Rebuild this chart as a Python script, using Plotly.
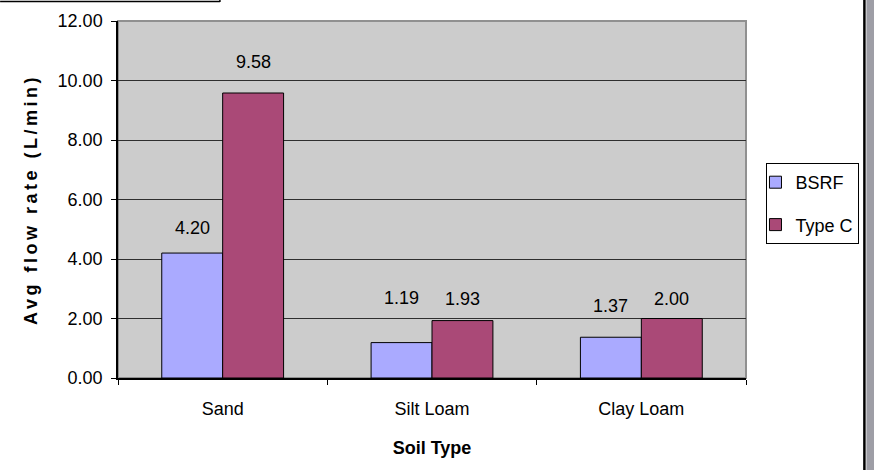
import plotly.graph_objects as go

# Average flow rate by soil type for two filter designs
soil_types = ["Sand", "Silt Loam", "Clay Loam"]
bsrf_flow = [4.20, 1.19, 1.37]
type_c_flow = [9.58, 1.93, 2.00]
y_ticks = [0, 2, 4, 6, 8, 10, 12]

FONT = "Arial, Liberation Sans, sans-serif"

# pixel lift of each value label above its bar
label_lift = {"BSRF": [25, 45, 31], "Type C": [31, 22, 20]}

fig = go.Figure()
fig.add_trace(go.Bar(
    name="BSRF", x=soil_types, y=bsrf_flow,
    marker=dict(color="#AAAAFF", line=dict(color="#000000", width=1)),
    legendgroup="a",
))
fig.add_trace(go.Bar(
    name="Type C", x=soil_types, y=type_c_flow,
    marker=dict(color="#AA4977", line=dict(color="#000000", width=1)),
    legendgroup="b",
))

# value labels above the bars
annotations = []
for series, vals, off in [("BSRF", bsrf_flow, -0.5), ("Type C", type_c_flow, 0.5)]:
    for i, v in enumerate(vals):
        annotations.append(dict(
            x=i + off * 0.29, y=v, xref="x", yref="y",
            text=f"{v:.2f}", showarrow=False,
            yshift=label_lift[series][i], yanchor="middle",
            font=dict(family=FONT, size=18, color="#000000"),
        ))

W, H = 874, 470
L, R, T, B = 118, 746.5, 21, 378
pw, ph = R - L, B - T


def px(x):
    return (x - L) / pw


def py(y):
    return (B - y) / ph


shapes = [
    # plot area frame (grey top and right edges)
    dict(type="rect", xref="paper", yref="paper", x0=0, x1=1, y0=0, y1=1,
         line=dict(color="#909090", width=2), layer="below"),
    # small frame at the top left
    dict(type="line", xref="paper", yref="paper", x0=px(0), x1=px(220), y0=py(1.5), y1=py(1.5),
         line=dict(color="#000000", width=1.5)),
    dict(type="line", xref="paper", yref="paper", x0=px(220), x1=px(220), y0=py(0), y1=py(2),
         line=dict(color="#000000", width=1.5)),
    # right-hand border and grey strip
    dict(type="line", xref="paper", yref="paper", x0=px(865), x1=px(865), y0=py(0), y1=py(470),
         line=dict(color="#000000", width=2.5)),
    dict(type="rect", xref="paper", yref="paper", x0=px(867), x1=px(875), y0=py(0), y1=py(471),
         line=dict(width=0), fillcolor="#9E9EA6"),
]

fig.update_layout(
    width=W, height=H,
    margin=dict(l=L, r=W - R, t=T, b=H - B, pad=0, autoexpand=False),
    paper_bgcolor="#FFFFFF",
    plot_bgcolor="#CCCCCC",
    barmode="group", bargap=0.418, bargroupgap=0,
    font=dict(family=FONT, size=18, color="#000000"),
    showlegend=True,
    legend=dict(
        x=px(767), y=py(163), xanchor="left", yanchor="top",
        bgcolor="#FFFFFF", bordercolor="#000000", borderwidth=1,
        font=dict(family=FONT, size=18, color="#000000"),
        tracegroupgap=16, itemwidth=30, indentation=-12,
    ),
    xaxis=dict(
        type="category",
        showline=True, linecolor="#000000", linewidth=1.5,
        ticks="outside", ticklen=5, tickcolor="#000000", tickson="boundaries",
        showgrid=False,
        tickfont=dict(family=FONT, size=18),
        ticklabelstandoff=14,
        title=dict(text="<b>Soil Type</b>", font=dict(family=FONT, size=18), standoff=23),
    ),
    yaxis=dict(
        range=[0, 12],
        tickvals=y_ticks, tickformat=".2f",
        showline=True, linecolor="#000000", linewidth=1.5,
        ticks="outside", ticklen=5, tickcolor="#000000",
        showgrid=True, gridcolor="#2E2E2E", gridwidth=1,
        zeroline=False,
        tickfont=dict(family=FONT, size=18),
        ticklabelstandoff=5,
        title=dict(
            text='<span style="letter-spacing:3.5px"><b>Avg flow rate (L/min)</b></span>',
            font=dict(family=FONT, size=18), standoff=15,
        ),
    ),
    annotations=annotations,
    shapes=shapes,
)

fig.write_html("out.html")
